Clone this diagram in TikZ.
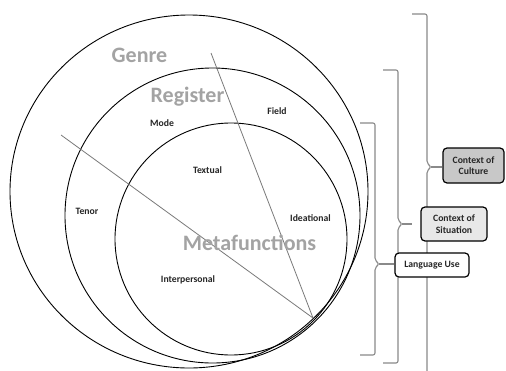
\documentclass[tikz,border=0pt]{standalone}
\usepackage{fontspec}
\setmainfont{Carlito}
\definecolor{biglbl}{HTML}{A3A3A3}
\definecolor{divline}{HTML}{7A7A7A}
\definecolor{brk}{HTML}{8A8A8A}
\definecolor{culturefill}{HTML}{C8C8C8}
\definecolor{situationfill}{HTML}{E8E8E8}
\begin{document}
\begin{tikzpicture}[x=1pt,y=-1pt,
  ring/.style={draw=black,line width=0.9pt},
  divider/.style={draw=divline,line width=0.8pt},
  biglabel/.style={font=\fontsize{22}{24}\selectfont\bfseries,text=biglbl,inner sep=0pt},
  smalllabel/.style={font=\fontsize{9.7}{12}\selectfont\bfseries,text=black!85,inner sep=0pt},
  bracketline/.style={draw=brk,line width=1.1pt,rounded corners=2pt},
  tipline/.style={draw=brk,line width=1.1pt},
  ctxbox/.style={draw=black,line width=1.2pt,rounded corners=4pt,align=center,
     font=\fontsize{9.7}{11.5}\selectfont\bfseries,text=black!85,inner sep=0pt}]
\useasboundingbox (0,0) rectangle (506,370);
\fill[white] (0,0) rectangle (506,370);
% circles
\draw[ring] (189,191.5) ellipse [x radius=179, y radius=176.5];
\draw[ring] (212.5,215.5) circle [radius=147.5];
\draw[ring] (231,239) circle [radius=116];
% dividing lines
\coordinate (apex) at (313,318);
\coordinate (fieldend) at (211,53);
\coordinate (modeend) at (61,135);
\draw[divider] (fieldend) -- (apex);
\draw[divider] (modeend) -- (apex);
% labels
\node[biglabel] (genre) at (139.5,55) {Genre};
\node[biglabel] (register) at (187.5,97) {Register};
\node[biglabel] (meta) at (249.5,243) {Metafunctions};
\node[smalllabel] (mode) at (162,123) {Mode};
\node[smalllabel] (field) at (277,111) {Field};
\node[smalllabel] (textual) at (207.5,170) {Textual};
\node[smalllabel] (tenor) at (87,211) {Tenor};
\node[smalllabel] (ideational) at (310.5,218) {Ideational};
\node[smalllabel] (interp) at (188,280) {Interpersonal};
% brackets
\coordinate (tipA) at (431,167);
\coordinate (tipB) at (402,224);
\coordinate (tipC) at (379,264);
\draw[bracketline] (412,14) -- (427,14) -- (427,163) -- (tipA) -- (427,171) -- (427,371);
\draw[bracketline] (383,70) -- (398,70) -- (398,220) -- (tipB) -- (398,228) -- (398,363) -- (383,363);
\draw[bracketline] (360,123) -- (375,123) -- (375,260) -- (tipC) -- (375,268) -- (375,355) -- (360,355);
% boxes
\node[ctxbox,fill=culturefill,minimum width=61pt,minimum height=35pt] (culture) at (473.5,165.5) {Context of\\Culture};
\node[ctxbox,fill=situationfill,minimum width=66pt,minimum height=34pt] (situation) at (454,224) {Context of\\Situation};
\node[ctxbox,fill=white,minimum width=74pt,minimum height=24pt] (languse) at (432,265) {Language Use};
\coordinate (tipAend) at (culture.west |- tipA);
\coordinate (tipBend) at ([xshift=-8pt]situation.west |- tipB);
\coordinate (tipCend) at (languse.west |- tipC);
\draw[tipline] (tipA) -- (tipAend);
\draw[tipline] (tipB) -- (tipBend);
\draw[tipline] (tipC) -- (tipCend);
\end{tikzpicture}
\end{document}
